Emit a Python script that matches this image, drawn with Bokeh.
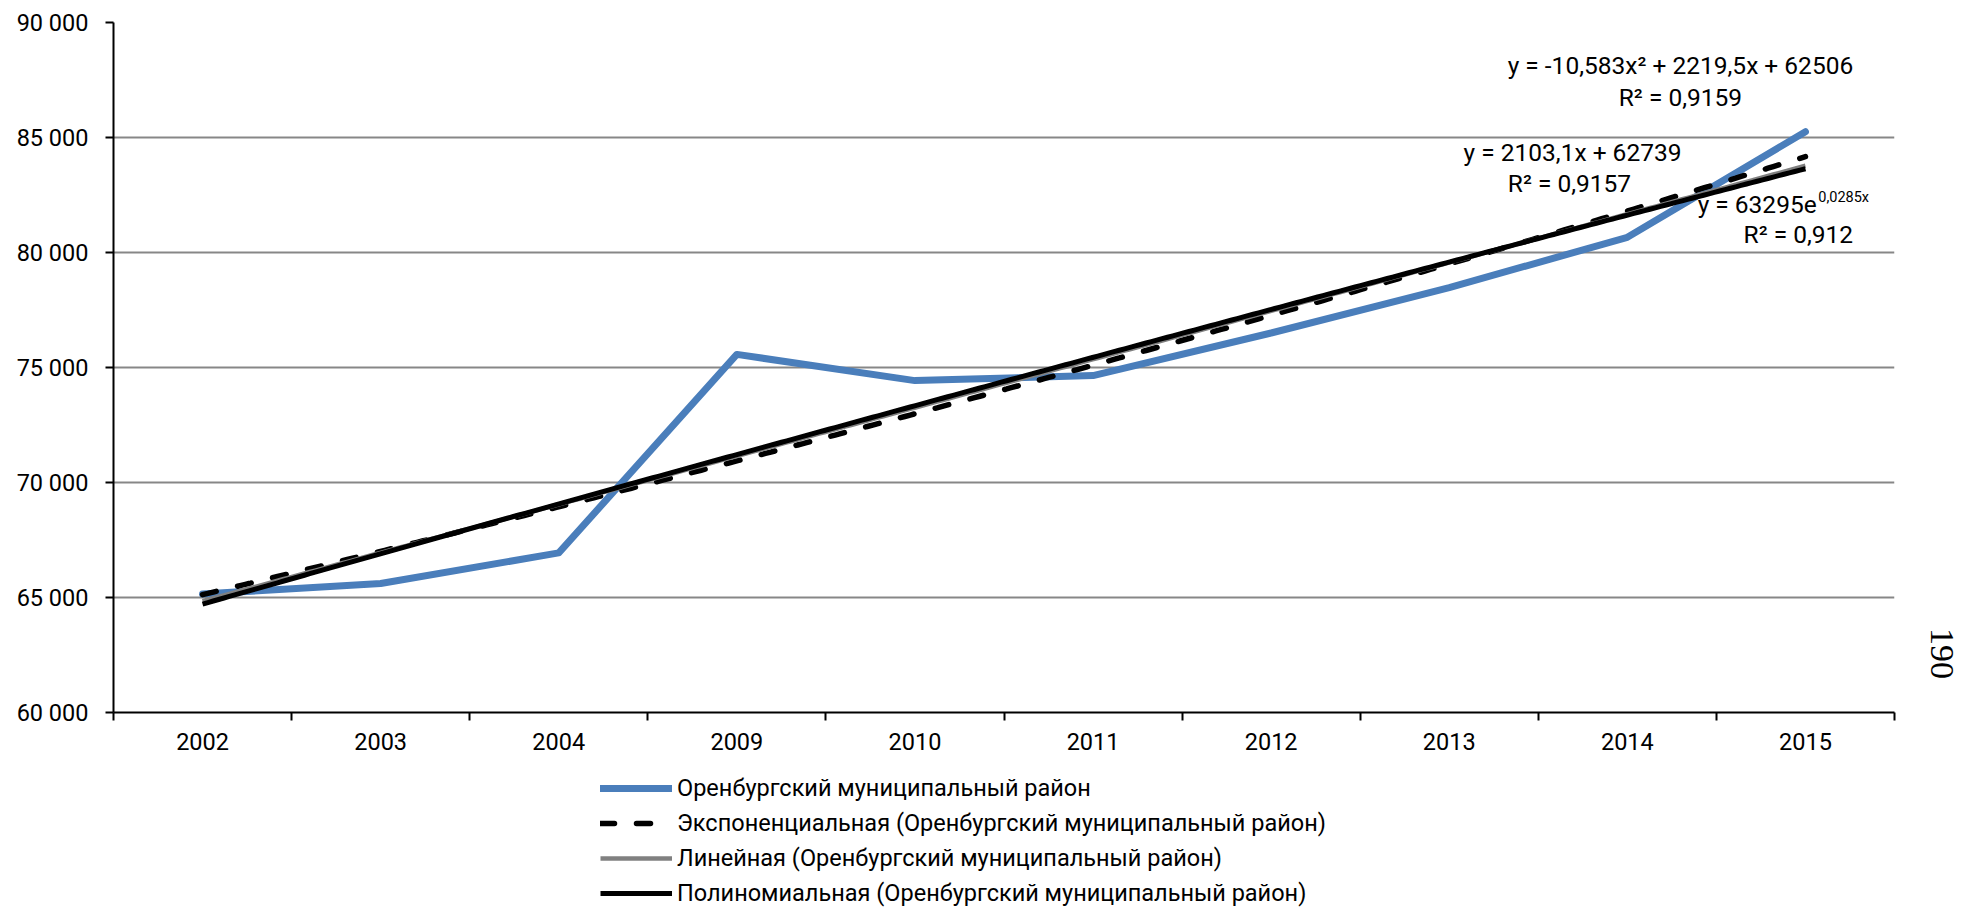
import numpy as np
from bokeh.plotting import figure
from bokeh.layouts import column, row
from bokeh.models import (Range1d, FixedTicker, Legend, LegendItem, Label,
                          ColumnDataSource)
from bokeh.embed import file_html
from bokeh.resources import INLINE

# ---------------- data ----------------
years = ["2002", "2003", "2004", "2009", "2010", "2011", "2012", "2013", "2014", "2015"]
values = [65150, 65610, 66940, 75570, 74430, 74650, 76500, 78470, 80660, 85250]
series_name = "Оренбургский муниципальный район"

# trend-line coefficients as printed on the chart (x = 1..10)
lin_coef = [2103.1, 62739]              # y = a*x + b
poly_coef = [-10.583, 2219.5, 62506]    # y = a*x^2 + b*x + c
exp_coef = [63295, 0.0285]              # y = a*e^(b*x)
r2_lin, r2_poly, r2_exp = "0,9157", "0,9159", "0,912"

y_ticks = [60000, 65000, 70000, 75000, 80000, 85000, 90000]
page_number = "190"

FONT = "Roboto"
FS = "23.5px"
FS_EQ = "24.5px"
W_MAIN = 1920
W_PAGE = 46
H_MAIN = 760
H_LEG = 148

# line styles
ST_MAIN = dict(line_color="#4A7EBB", line_width=7, line_cap="round", line_join="round")
ST_EXP = dict(line_color="black", line_width=5.5, line_dash="14 22", line_cap="round")
ST_LIN = dict(line_color="#808080", line_width=4.5)
ST_POLY = dict(line_color="black", line_width=5)

# ---------------- main figure ----------------
p = figure(width=W_MAIN, height=H_MAIN, output_backend="svg", toolbar_location=None,
           x_range=Range1d(0.5, 10.5), y_range=Range1d(60000, 90000),
           min_border_left=113, min_border_right=W_MAIN - 113 - 1781, min_border_top=22,
           min_border_bottom=H_MAIN - 712)
p.frame_align = False
p.outline_line_color = None

xpos = list(range(1, len(years) + 1))
src = ColumnDataSource(dict(x=xpos, y=values))

xs = np.linspace(1, len(years), 300)
exp_y = exp_coef[0] * np.exp(exp_coef[1] * xs)
lin_y = lin_coef[0] * xs + lin_coef[1]
poly_y = poly_coef[0] * xs ** 2 + poly_coef[1] * xs + poly_coef[2]

p.line("x", "y", source=src, **ST_MAIN)
p.line(xs, exp_y, **ST_EXP)
p.line(xs, lin_y, **ST_LIN)
p.line(xs, poly_y, **ST_POLY)

p.xgrid.visible = False
p.ygrid.grid_line_color = "#878787"
p.ygrid.grid_line_width = 2
p.ygrid.ticker = FixedTicker(ticks=y_ticks)

xa = p.xaxis[0]
xa.ticker = FixedTicker(ticks=xpos, minor_ticks=[i + 0.5 for i in range(0, len(years) + 1)])
xa.major_label_overrides = {i: y for i, y in zip(xpos, years)}
xa.major_tick_out = 0
xa.major_tick_in = 0
xa.minor_tick_out = 8
xa.minor_tick_in = 0
xa.minor_tick_line_color = "black"
xa.minor_tick_line_width = 2
xa.axis_line_color = "black"
xa.axis_line_width = 2
xa.major_label_text_font = FONT
xa.major_label_text_font_size = FS
xa.major_label_text_color = "black"
xa.major_label_standoff = 12

ya = p.yaxis[0]
ya.ticker = FixedTicker(ticks=y_ticks, minor_ticks=[])
ya.major_label_overrides = {v: f"{v:,}".replace(",", " ") for v in y_ticks}
ya.major_tick_out = 8
ya.major_tick_in = 0
ya.major_tick_line_color = "black"
ya.major_tick_line_width = 2
ya.axis_line_color = "black"
ya.axis_line_width = 2
ya.major_label_text_font = FONT
ya.major_label_text_font_size = FS
ya.major_label_text_color = "black"
ya.major_label_standoff = 17


def lab(x, y, text, align="center", size=FS_EQ):
    p.add_layout(Label(x=x, y=y, text=text, text_align=align, text_baseline="middle",
                       text_font=FONT, text_font_size=size, text_color="black"))


lab(9.298, 88117, f"y = {str(poly_coef[0]).replace('.', ',')}x² + "
    f"{str(poly_coef[1]).replace('.', ',')}x + {poly_coef[2]}")
lab(9.298, 86726, f"R² = {r2_poly}")
lab(8.692, 84335, f"y = {str(lin_coef[0]).replace('.', ',')}x + {lin_coef[1]}")
lab(8.675, 82987, f"R² = {r2_lin}")
lab(10.063, 82074, f"y = {exp_coef[0]}e", align="right")
lab(10.072, 82380, f"{str(exp_coef[1]).replace('.', ',')}x", align="left", size="14.5px")
lab(9.960, 80770, f"R² = {r2_exp}")

# ---------------- page-number strip ----------------
pf = figure(width=W_PAGE, height=H_MAIN, output_backend="svg", toolbar_location=None,
            x_range=Range1d(0, W_PAGE), y_range=Range1d(0, H_MAIN),
            x_axis_type=None, y_axis_type=None, min_border=0)
pf.frame_align = False
pf.outline_line_color = None
pf.xgrid.visible = False
pf.ygrid.visible = False
pf.add_layout(Label(x=21, y=H_MAIN - 653, text=page_number, angle=-np.pi / 2,
                    text_align="center", text_baseline="middle",
                    text_font="Liberation Serif", text_font_size="34px",
                    text_color="black"))

# ---------------- legend figure ----------------
lf = figure(width=W_MAIN + W_PAGE, height=H_LEG, output_backend="svg",
            toolbar_location=None, x_range=Range1d(0, 1), y_range=Range1d(0, 1),
            x_axis_type=None, y_axis_type=None, min_border=0)
lf.frame_align = False
lf.outline_line_color = None
lf.xgrid.visible = False
lf.ygrid.visible = False
# legend proxies (kept outside the visible range)
lr_main = lf.line([-5, -4], [-5, -5], **ST_MAIN)
lr_exp = lf.line([-5, -4], [-5, -5], **ST_EXP)
lr_lin = lf.line([-5, -4], [-5, -5], **ST_LIN)
lr_poly = lf.line([-5, -4], [-5, -5], **ST_POLY)

legend = Legend(items=[
    LegendItem(label=series_name, renderers=[lr_main]),
    LegendItem(label=f"Экспоненциальная ({series_name})", renderers=[lr_exp]),
    LegendItem(label=f"Линейная ({series_name})", renderers=[lr_lin]),
    LegendItem(label=f"Полиномиальная ({series_name})", renderers=[lr_poly]),
], location=(600, 1))
legend.border_line_color = None
legend.background_fill_alpha = 0
legend.padding = 0
legend.margin = 0
legend.spacing = 7
legend.glyph_width = 72
legend.glyph_height = 20
legend.label_standoff = 5
legend.label_text_font = FONT
legend.label_text_font_size = FS
legend.label_text_color = "black"
legend.label_height = 28
lf.add_layout(legend, "center")

layout = column(row(p, pf, spacing=0), lf, spacing=0)
open("out.html", "w").write(file_html(layout, INLINE))
